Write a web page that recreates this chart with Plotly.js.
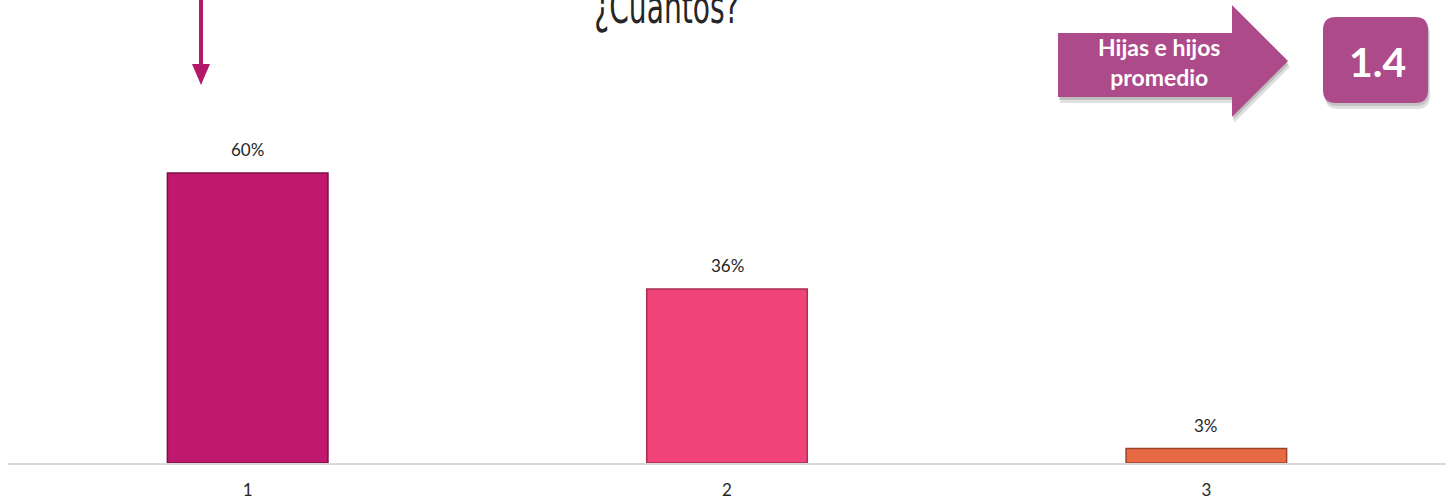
<!DOCTYPE html>
<html><head><meta charset="utf-8">
<script src="https://cdn.plot.ly/plotly-3.0.1.min.js"></script>
<style>html,body{margin:0;padding:0;background:#fff}#chart{width:1454px;height:499px}</style>
</head><body><div id="chart"></div>
<script>
const categories = ['1', '2', '3'];
const values = [0.60, 0.36, 0.03];
const valueLabels = ['60%', '36%', '3%'];
const barColors = ['#C0186C', '#EF4379', '#E86A45'];
const barEdges = ['#7A0F45', '#A82E55', '#9E4328'];
const titleText = '¿Cuántos?';
const calloutText = 'Hijas e hijos<br>promedio';
const averageText = '1.4';

const W = 1454, H = 499, L = 8, R = 8, T = 0, B = 36;
const pw = W - L - R, ph = H - T - B;
const px = x => (x - L) / pw;
const py = y => (H - B - y) / ph;
function path(pts) { return 'M' + pts.map(p => px(p[0]).toFixed(5) + ',' + py(p[1]).toFixed(5)).join(' L') + ' Z'; }
function rrect(x0, y0, x1, y1, r) {
  const P = (x, y) => px(x).toFixed(5) + ',' + py(y).toFixed(5);
  return 'M' + P(x0 + r, y0) + ' L' + P(x1 - r, y0) + ' Q' + P(x1, y0) + ' ' + P(x1, y0 + r) +
    ' L' + P(x1, y1 - r) + ' Q' + P(x1, y1) + ' ' + P(x1 - r, y1) + ' L' + P(x0 + r, y1) +
    ' Q' + P(x0, y1) + ' ' + P(x0, y1 - r) + ' L' + P(x0, y0 + r) + ' Q' + P(x0, y0) + ' ' + P(x0 + r, y0) + ' Z';
}
const arrowPts = (dx, dy) => [[1058, 33], [1232, 33], [1232, 5], [1288, 61], [1232, 117], [1232, 97], [1058, 97]].map(p => [p[0] + dx, p[1] + dy]);

const shapes = [
  {type: 'path', xref: 'paper', yref: 'paper', path: path(arrowPts(2, 6)), fillcolor: 'rgba(0,0,0,0.12)', line: {width: 0}, layer: 'above'},
  {type: 'path', xref: 'paper', yref: 'paper', path: path(arrowPts(1, 3)), fillcolor: 'rgba(0,0,0,0.15)', line: {width: 0}, layer: 'above'},
  {type: 'path', xref: 'paper', yref: 'paper', path: path(arrowPts(0, 0)), fillcolor: '#AD4A8A', line: {width: 0}, layer: 'above'},
  {type: 'path', xref: 'paper', yref: 'paper', path: rrect(1325, 22, 1430, 109, 13), fillcolor: 'rgba(0,0,0,0.12)', line: {width: 0}, layer: 'above'},
  {type: 'path', xref: 'paper', yref: 'paper', path: rrect(1324, 19, 1429, 106, 13), fillcolor: 'rgba(0,0,0,0.12)', line: {width: 0}, layer: 'above'},
  {type: 'path', xref: 'paper', yref: 'paper', path: rrect(1323, 17, 1428, 103, 13), fillcolor: '#AD4A8A', line: {width: 0}, layer: 'above'},
  {type: 'line', xref: 'paper', yref: 'paper', x0: px(201), x1: px(201), y0: py(-2), y1: py(66), line: {color: '#B3186B', width: 4}},
  {type: 'path', xref: 'paper', yref: 'paper', path: path([[192, 64], [210, 64], [201, 85]]), fillcolor: '#B3186B', line: {width: 0}}
];

const annotations = categories.map((c, i) => ({
  x: i, y: values[i], xref: 'x', yref: 'y', text: valueLabels[i], showarrow: false,
  yanchor: 'bottom', yshift: 11, font: {family: 'Lato, sans-serif', size: 17, color: '#262626'}
}));
annotations.push({xref: 'paper', yref: 'paper', x: px(667), y: py(36), xanchor: 'center', yanchor: 'bottom',
  text: titleText, showarrow: false, font: {family: '"Liberation Sans Narrow", "DejaVu Sans Condensed", sans-serif', size: 46, color: '#262626'}});
annotations.push({xref: 'paper', yref: 'paper', x: px(1159), y: py(62), xanchor: 'center', yanchor: 'middle',
  text: '<b>' + calloutText + '</b>', showarrow: false, font: {family: 'Lato, sans-serif', size: 23, color: '#FFFFFF'}});
annotations.push({xref: 'paper', yref: 'paper', x: px(1377), y: py(61), xanchor: 'center', yanchor: 'middle',
  text: '<b>' + averageText + '</b>', showarrow: false, font: {family: 'Lato, sans-serif', size: 41, color: '#FFFFFF'}});

const trace = {
  type: 'bar', x: categories, y: values,
  marker: {color: barColors, line: {color: barEdges, width: 1.5}},
  width: 0.335, hoverinfo: 'skip'
};

const layout = {
  width: W, height: H, margin: {l: L, r: R, t: T, b: B},
  paper_bgcolor: '#FFFFFF', plot_bgcolor: '#FFFFFF', showlegend: false,
  xaxis: {type: 'category', range: [-0.5, 2.5], showline: true, linecolor: '#D9D9D9', linewidth: 2, ticks: '', showgrid: false,
    ticklabelstandoff: 11, tickfont: {family: 'Lato, sans-serif', size: 17, color: '#262626'}},
  yaxis: {range: [0, ph / 483.3], visible: false, showgrid: false, zeroline: false},
  shapes: shapes, annotations: annotations
};
Plotly.newPlot('chart', [trace], layout, {displayModeBar: false, staticPlot: true}).then(() => {
  document.querySelectorAll('.annotation-text').forEach(el => {
    if (el.textContent === titleText) {
      el.style.transformBox = 'fill-box';
      el.style.transformOrigin = 'center';
      el.style.transform = 'scaleX(0.68)';
    }
  });
});
</script></body></html>
